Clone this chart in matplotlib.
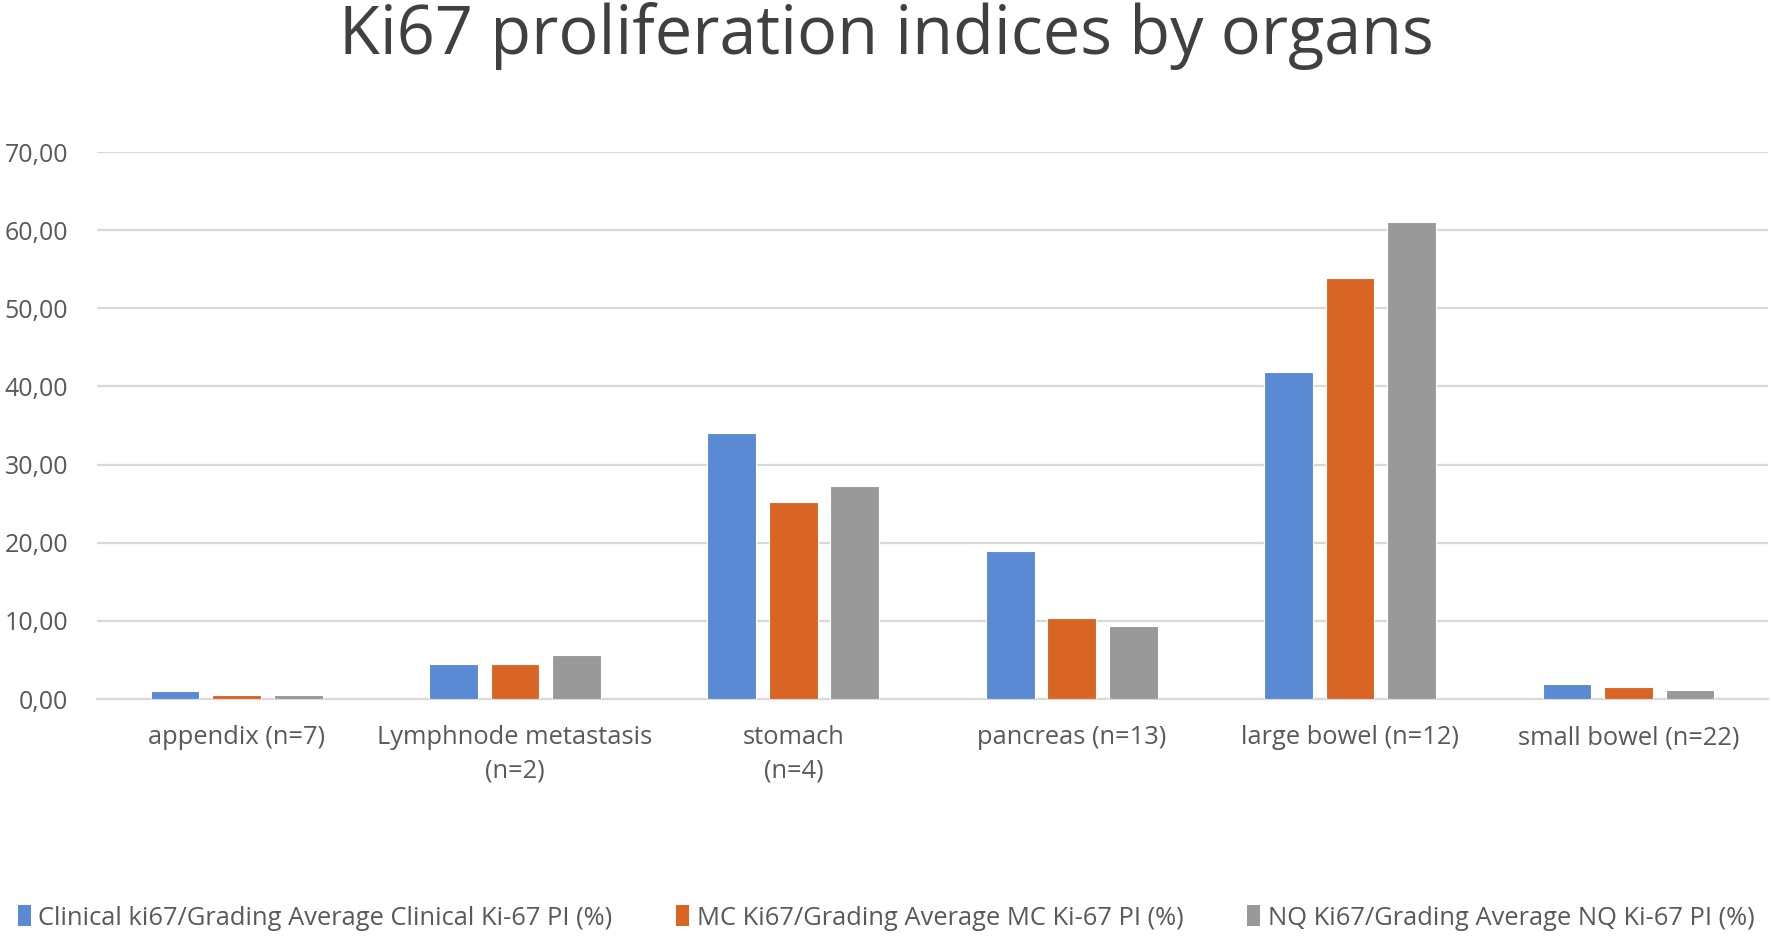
import numpy as np
import matplotlib
matplotlib.use("Agg")
import matplotlib.pyplot as plt
from matplotlib.patches import Patch

plt.rcParams["font.family"] = ["Open Sans", "DejaVu Sans"]

organs = ["appendix (n=7)", "Lymphnode metastasis\n(n=2)", "stomach\n(n=4)",
          "pancreas (n=13)", "large bowel (n=12)", "small bowel (n=22)"]
clinical = [1.0, 4.5, 34.0, 19.0, 41.8, 1.9]
mc = [0.5, 4.5, 25.2, 10.4, 53.9, 1.5]
nq = [0.5, 5.6, 27.2, 9.4, 61.0, 1.1]
series_names = ["Clinical ki67/Grading Average Clinical Ki-67 PI (%)",
                "MC Ki67/Grading Average MC Ki-67 PI (%)",
                "NQ Ki67/Grading Average NQ Ki-67 PI (%)"]
y_ticks = [0, 10, 20, 30, 40, 50, 60, 70]
y_tick_labels = ["0,00", "10,00", "20,00", "30,00", "40,00", "50,00", "60,00", "70,00"]

colors = ["#5b8ad5", "#d96524", "#999999"]
text_col = "#595959"

fig = plt.figure(figsize=(17.72, 9.43), dpi=100)
ax = fig.add_axes([0.055, 0.2587, 0.9425, 0.5801])

x = np.arange(len(organs))
width = 0.175
step = 0.221
for i, (vals, c) in enumerate(zip([clinical, mc, nq], colors)):
    ax.bar(x + (i - 1) * step, vals, width, color=c, edgecolor="white",
           linewidth=0.8, zorder=3)

ax.set_xlim(-0.5, len(organs) - 0.5)
ax.set_ylim(0, 70)
ax.set_yticks(y_ticks)
ax.set_yticklabels(y_tick_labels, fontsize=18, color=text_col)
ax.set_xticks(x)
ax.set_xticklabels(organs, fontsize=18.4, color=text_col, linespacing=1.4)
ax.tick_params(axis="y", length=0, pad=21)
ax.tick_params(axis="x", length=0, pad=19)

ax.grid(axis="y", color="#d9d9d9", linewidth=1.6, zorder=0)
for s in ["top", "right", "left"]:
    ax.spines[s].set_visible(False)
ax.spines["bottom"].set_color("#d9d9d9")
ax.spines["bottom"].set_linewidth(1.6)

fig.text(0.5, 0.962, "Ki67 proliferation indices by organs", ha="center",
         va="center", fontsize=48, color="#404040")

handles = [Patch(facecolor=c, edgecolor="none") for c in colors]
fig.legend(handles, series_names, loc="center", bbox_to_anchor=(0.5, 1 - 918 / 943),
           ncol=3, frameon=False, fontsize=18.4, handlelength=0.5, handleheight=0.85,
           handletextpad=0.3, columnspacing=2.5, labelcolor=text_col)

fig.savefig("out.png", dpi=100)
